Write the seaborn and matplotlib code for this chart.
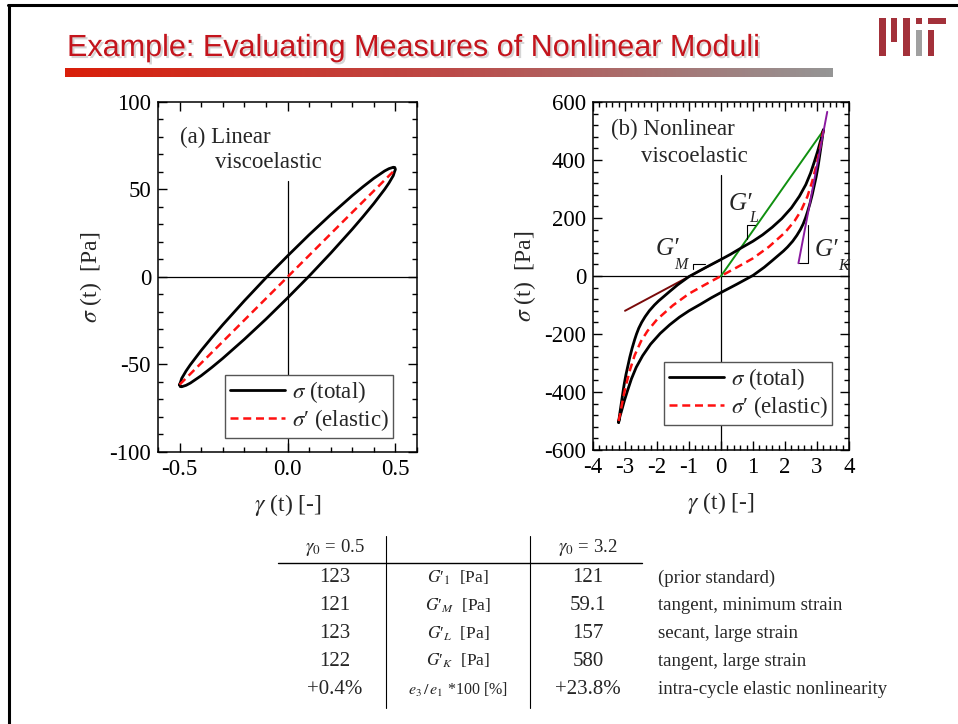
import numpy as np
import pandas as pd
import matplotlib
matplotlib.use("Agg")
import matplotlib.pyplot as plt
import matplotlib.patheffects as pe
from matplotlib.lines import Line2D
from matplotlib.patches import Rectangle
from matplotlib.colors import LinearSegmentedColormap
from matplotlib.ticker import MultipleLocator, FormatStrFormatter
import seaborn as sns

# ---------------- data ----------------
# (a) linear viscoelastic, gamma0 = 0.5
gam_a_up = [-0.5, -0.495, -0.49, -0.47, -0.45, -0.4, -0.35, -0.3, -0.2, -0.1, 0.0,
            0.1, 0.2, 0.3, 0.35, 0.4, 0.45, 0.47, 0.49, 0.497, 0.5]
sig_a_up = [-61.5, -59.8, -57.9, -53.7, -50.1, -42.0, -34.5, -27.3, -13.6, -0.5, 12.0,
            24.1, 35.6, 46.5, 51.6, 56.4, 60.6, 61.9, 62.7, 62.6, 61.5]
gam_a_lo = [0.5, 0.495, 0.49, 0.47, 0.45, 0.4, 0.35, 0.3, 0.2, 0.1, 0.0,
            -0.1, -0.2, -0.3, -0.35, -0.4, -0.45, -0.47, -0.49, -0.497, -0.5]
sig_a_lo = [61.5, 59.8, 57.9, 53.7, 50.1, 42.0, 34.5, 27.3, 13.6, 0.5, -12.0,
            -24.1, -35.6, -46.5, -51.6, -56.4, -60.6, -61.9, -62.7, -62.6, -61.5]
gam_a_el = [-0.5, -0.25, 0.0, 0.25, 0.5]
sig_a_el = [-61.5, -30.8, 0.0, 30.8, 61.5]

# (b) nonlinear viscoelastic, gamma0 = 3.2
gam_b_up = [-3.20, -3.17, -3.13, -3.09, -3.05, -3.02, -2.97, -2.91, -2.85, -2.78,
            -2.70, -2.64, -2.57, -2.48, -2.37, -2.24, -2.08, -1.95, -1.78, -1.60,
            -1.35, -1.00, -0.50, 0.00, 0.30, 0.65, 1.00, 1.30, 1.60, 1.90,
            2.20, 2.45, 2.65, 2.80, 2.92, 3.02, 3.10, 3.16, 3.20]
sig_b_up = [-505, -480, -450, -420, -390, -370, -340, -310, -280, -250,
            -220, -200, -180, -160, -140, -120, -100, -86, -70, -53,
            -30, -2, 28, 57, 75, 98, 120, 142, 168, 198,
            235, 275, 315, 355, 395, 430, 462, 485, 505]
gam_b_lo = [3.20, 3.17, 3.13, 3.09, 3.05, 3.02, 2.97, 2.91, 2.85, 2.78,
            2.70, 2.64, 2.57, 2.48, 2.37, 2.24, 2.08, 1.95, 1.78, 1.60,
            1.35, 1.00, 0.50, 0.00, -0.30, -0.65, -1.00, -1.30, -1.60, -1.90,
            -2.20, -2.45, -2.65, -2.80, -2.92, -3.02, -3.10, -3.16, -3.20]
sig_b_lo = [505, 480, 450, 420, 390, 370, 340, 310, 280, 250,
            220, 200, 180, 160, 140, 120, 100, 86, 70, 53,
            30, 2, -28, -57, -75, -98, -120, -142, -168, -198,
            -235, -275, -315, -355, -395, -430, -462, -485, -505]
gam_b_el = [-3.2, -3.15, -3.1, -3.0, -2.85, -2.7, -2.5, -2.3, -2.0, -1.5, -1.0, -0.5,
            0.0, 0.5, 1.0, 1.5, 2.0, 2.3, 2.5, 2.7, 2.85, 3.0, 3.1, 3.15, 3.2]
sig_b_el = [-500, -475, -445, -390, -326, -274, -225, -190, -150, -101, -61, -30,
            0, 30, 61, 101, 150, 190, 225, 274, 326, 390, 445, 475, 500]

# modulus construction lines (b)
gm_gam = [-3.0, 0.0]
gm_sig = [-120, 57]
gl_gam = [0.0, 3.2]
gl_sig = [0, 502]
gk_gam = [2.42, 3.32]
gk_sig = [44, 566]
# small slope brackets
brk_l_gam = [0.80, 0.80, 1.06]
brk_l_sig = [126, 176, 176]
brk_m_gam = [-0.885, -0.885, -0.50]
brk_m_sig = [24, 42, 42]
brk_k_gam = [2.45, 2.73, 2.73]
brk_k_sig = [44, 44, 176]

# table
hdr_lin = r"$\gamma_0$ = 0.5"
hdr_nl = r"$\gamma_0$ = 3.2"
col_lin = ["123", "121", "123", "122", "+0.4%"]
col_meas = ["$G$\u2032$_{1}$  [Pa]", "$G$\u2032$_{M}$  [Pa]", "$G$\u2032$_{L}$  [Pa]",
            "$G$\u2032$_{K}$  [Pa]", r"$e_3\,/\,e_1$ *100 [%]"]
col_nl = ["121", "59.1", "157", "580", "+23.8%"]
col_desc = ["(prior standard)", "tangent, minimum strain", "secant, large strain",
            "tangent, large strain", "intra-cycle elastic nonlinearity"]

# ---------------- style ----------------
sns.set_theme(style="ticks")
plt.rcParams["font.family"] = ["Liberation Serif", "DejaVu Serif"]
plt.rcParams["mathtext.fontset"] = "stix"
plt.rcParams["axes.unicode_minus"] = False
plt.rcParams["axes.edgecolor"] = "black"
plt.rcParams["axes.linewidth"] = 1.1
plt.rcParams["xtick.color"] = "black"
plt.rcParams["ytick.color"] = "black"

W, H = 958, 724
fig = plt.figure(figsize=(W / 100, H / 100), dpi=100)
fig.patch.set_facecolor("white")


def P(x, y):
    return x / W, 1 - y / H


def add_ax(x0, y0, x1, y1):
    return fig.add_axes([x0 / W, 1 - y1 / H, (x1 - x0) / W, (y1 - y0) / H])


TICK_FS = 16.5
LAB_FS = 17
DASH = (0, (3.2, 1.9))
LEG_KW = dict(loc="lower right", borderaxespad=0, fontsize=16.5, frameon=True,
              fancybox=False, framealpha=1, edgecolor="#555555", handlelength=2.4,
              handletextpad=0.3, borderpad=0.2, labelspacing=0.1)
LAB_TOT = r"$\sigma$ (total)"
LAB_EL = "$\\sigma$\u2032 (elastic)"


def style_axes(ax):
    ax.tick_params(which="both", direction="in", top=True, right=True,
                   labelsize=TICK_FS, width=1.0, pad=5)
    ax.tick_params(which="major", length=6.5)
    ax.tick_params(which="minor", length=3.5)
    for s in ax.spines.values():
        s.set_linewidth(1.1)


# ---------- panel (a) ----------
axA = add_ax(158, 102, 417, 452)
axA.axhline(0, color="black", lw=0.9, zorder=1)
axA.axvline(0, ymin=0, ymax=0.775, color="black", lw=0.9, zorder=1)
dfa = pd.DataFrame({"g": gam_a_up + gam_a_lo, "s": sig_a_up + sig_a_lo})
sns.lineplot(data=dfa, x="g", y="s", sort=False, estimator=None, color="black",
             lw=2.0, ax=axA, label=LAB_TOT, zorder=3)
dfa_el = pd.DataFrame({"g": gam_a_el, "s": sig_a_el})
sns.lineplot(data=dfa_el, x="g", y="s", sort=False, estimator=None, color="#ff1010",
             lw=1.8, ls=DASH, ax=axA, label=LAB_EL, zorder=4)
axA.set_xlim(-0.6, 0.6)
axA.set_ylim(-100, 100)
axA.xaxis.set_major_locator(MultipleLocator(0.5))
axA.xaxis.set_minor_locator(MultipleLocator(0.1))
axA.xaxis.set_major_formatter(FormatStrFormatter("%.1f"))
axA.yaxis.set_major_locator(MultipleLocator(50))
axA.yaxis.set_minor_locator(MultipleLocator(10))
style_axes(axA)
axA.set_xlabel(r"$\gamma$ (t) [-]", fontsize=LAB_FS, labelpad=9)
axA.set_ylabel(r"$\sigma$ (t)  [Pa]", fontsize=LAB_FS, labelpad=4)
axA.text(0.085, 0.9, "(a) Linear", transform=axA.transAxes, fontsize=16.5,
         va="center", ha="left")
axA.text(0.222, 0.826, "viscoelastic", transform=axA.transAxes, fontsize=16.5,
         va="center", ha="left")
legA = axA.legend(bbox_to_anchor=(0.907, 0.04), **LEG_KW)
legA.get_frame().set_linewidth(1.0)
legA.set_zorder(10)

# ---------- panel (b) ----------
axB = add_ax(593, 102, 849, 450)
axB.axhline(0, color="black", lw=0.9, zorder=1)
axB.axvline(0, ymin=0, ymax=0.79, color="black", lw=0.9, zorder=1)
sns.lineplot(x=gm_gam, y=gm_sig, sort=False, estimator=None, color="#7a0a0a",
             lw=1.4, ax=axB, zorder=2)
sns.lineplot(x=gl_gam, y=gl_sig, sort=False, estimator=None, color="#109010",
             lw=1.4, ax=axB, zorder=2)
sns.lineplot(x=gk_gam, y=gk_sig, sort=False, estimator=None, color="#8a1aa0",
             lw=1.4, ax=axB, zorder=5)
for bg, bs in [(brk_l_gam, brk_l_sig), (brk_m_gam, brk_m_sig), (brk_k_gam, brk_k_sig)]:
    sns.lineplot(x=bg, y=bs, sort=False, estimator=None, color="black", lw=0.8,
                 ax=axB, zorder=2)
dfb = pd.DataFrame({"g": gam_b_up + gam_b_lo, "s": sig_b_up + sig_b_lo})
sns.lineplot(data=dfb, x="g", y="s", sort=False, estimator=None, color="black",
             lw=2.0, ax=axB, label=LAB_TOT, zorder=3)
dfb_el = pd.DataFrame({"g": gam_b_el, "s": sig_b_el})
sns.lineplot(data=dfb_el, x="g", y="s", sort=False, estimator=None, color="#ff1010",
             lw=1.8, ls=DASH, ax=axB, label=LAB_EL, zorder=4)
axB.set_xlim(-4, 4)
axB.set_ylim(-600, 600)
axB.xaxis.set_major_locator(MultipleLocator(1))
axB.xaxis.set_minor_locator(MultipleLocator(0.2))
axB.yaxis.set_major_locator(MultipleLocator(200))
axB.yaxis.set_minor_locator(MultipleLocator(40))
style_axes(axB)
axB.set_xlabel(r"$\gamma$ (t) [-]", fontsize=LAB_FS, labelpad=9)
axB.set_ylabel(r"$\sigma$ (t)  [Pa]", fontsize=LAB_FS, labelpad=4)
axB.text(0.07, 0.92, "(b) Nonlinear", transform=axB.transAxes, fontsize=16.5,
         va="center", ha="left")
axB.text(0.1875, 0.842, "viscoelastic", transform=axB.transAxes, fontsize=16.5,
         va="center", ha="left")
legB = axB.legend(bbox_to_anchor=(0.934, 0.072), **LEG_KW)
legB.get_frame().set_linewidth(1.0)
legB.set_zorder(10)

# modulus labels
for (gx, gy), (sx, sy), sub in [((740, 204), (754, 218), "L"),
                                ((667, 249), (681, 265), "M"),
                                ((826, 250), (843, 266), "K")]:
    fig.text(*P(gx, gy), "G\u2032", fontsize=18, style="italic", ha="center", va="center")
    fig.text(*P(sx, sy), sub, fontsize=11.5, style="italic", ha="center", va="center")

# ---------- slide decorations ----------
fig.add_artist(Line2D([8 / W, 1], [1 - 5 / H] * 2, transform=fig.transFigure,
                      color="black", lw=2.2))
fig.add_artist(Line2D([9 / W] * 2, [0, 1 - 5 / H], transform=fig.transFigure,
                      color="black", lw=2.2))

fig.text(*P(67, 48), "Example: Evaluating Measures of Nonlinear Moduli",
         family="Liberation Sans", fontsize=22, color="#C4141C", ha="left",
         va="center",
         path_effects=[pe.withSimplePatchShadow(offset=(1.5, -1.5),
                                                shadow_rgbFace="#888888", alpha=0.35)])
axbar = add_ax(65, 68, 833, 77)
cmap = LinearSegmentedColormap.from_list("tb", ["#D91E0A", "#BC4A48", "#959595"])
axbar.imshow(np.linspace(0, 1, 256)[None, :], aspect="auto", cmap=cmap)
axbar.axis("off")

# MIT logo
mit_red = "#A3313A"
mit_gray = "#A0A0A0"
for (x0, y0, x1, y1, c) in [(879, 18, 885.7, 56, mit_red), (891, 18, 897.3, 42, mit_red),
                            (903.3, 18, 910, 56, mit_red), (915.7, 18, 922.3, 24, mit_red),
                            (915.7, 30, 922.3, 56, mit_gray), (927.7, 18, 946, 24, mit_red),
                            (927.7, 30, 934, 56, mit_red)]:
    fig.add_artist(Rectangle(P(x0, y1), (x1 - x0) / W, (y1 - y0) / H,
                             transform=fig.transFigure, color=c, lw=0))

# ---------- table ----------
row_y = [578, 606, 634, 661, 690]
fig.text(*P(335, 548), hdr_lin, fontsize=13.5, ha="center", va="center")
fig.text(*P(588, 548), hdr_nl, fontsize=13.5, ha="center", va="center")
for i, y in enumerate(row_y):
    fig.text(*P(335, y), col_lin[i], fontsize=15, ha="center", va="center")
    fig.text(*P(458, y), col_meas[i], fontsize=12.5 if i < 4 else 11.5,
             ha="center", va="center")
    fig.text(*P(588, y), col_nl[i], fontsize=15, ha="center", va="center")
    fig.text(*P(658, y), col_desc[i], fontsize=13.5, ha="left", va="center")
fig.add_artist(Line2D([278 / W, 642 / W], [1 - 563 / H] * 2, transform=fig.transFigure,
                      color="black", lw=1.0))
for xv in (386, 530):
    fig.add_artist(Line2D([xv / W] * 2, [1 - 536 / H, 1 - 708 / H],
                          transform=fig.transFigure, color="black", lw=0.8))

fig.savefig("out.png", dpi=100)
